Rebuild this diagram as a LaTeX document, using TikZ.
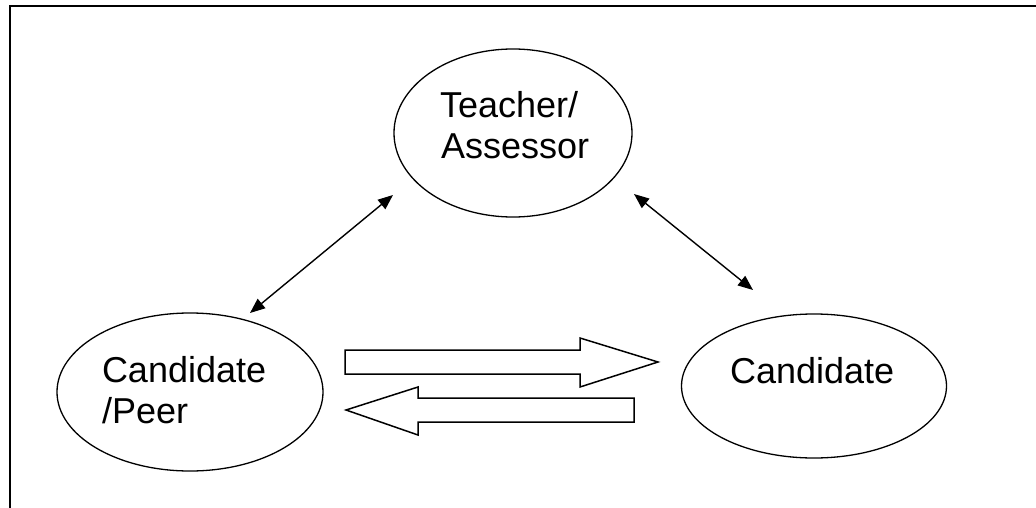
\documentclass[tikz,border=0pt]{standalone}
\usepackage{fontspec}
\setmainfont{Liberation Sans}
\usetikzlibrary{shapes.geometric,arrows.meta}
\tikzset{
  oval/.style={ellipse, draw=black, line width=1.3pt, inner sep=0pt, outer sep=0pt},
  label/.style={anchor=base west, inner sep=0pt, outer sep=0pt, font=\fontsize{36}{41}\selectfont},
  dbl/.style={line width=1.4pt, {Triangle[length=15pt,width=12pt]}-{Triangle[length=15pt,width=12pt]}},
  block/.style={draw=black, line width=1.5pt, fill=white, line join=miter},
  frame/.style={line width=2pt}
}
\begin{document}
\begin{tikzpicture}[x=1pt,y=-1pt]
\useasboundingbox (0,0) rectangle (1036,508);
% frame
\coordinate (ftl) at (10,6);
\coordinate (ftr) at (1036,6);
\coordinate (fbl) at (10,508);
\draw[frame] (fbl) -- (ftl) -- (ftr);
% ellipses
\node[oval, minimum width=238pt, minimum height=168pt] (teacher) at (513,133) {};
\node[oval, minimum width=266pt, minimum height=158pt] (peer) at (190,392) {};
\node[oval, minimum width=265pt, minimum height=144pt] (cand) at (814,386) {};
% texts
\node[label] (t1) at (440,118) {Teacher/};
\node[label] (t2) at (441,159) {Assessor};
\node[label] (p1) at (102,382) {Candidate};
\node[label] (p2) at (102,423) {/Peer};
\node[label] (c1) at (730,383) {Candidate};
% double arrows
\coordinate (a1) at (250,313);
\coordinate (a2) at (393,195);
\coordinate (b1) at (634,194);
\coordinate (b2) at (753,290);
\draw[dbl] (a1) -- (a2);
\draw[dbl] (b1) -- (b2);
% block arrows
\draw[block] (345,350) -- (580,350) -- (580,338) -- (658,362) -- (580,387) -- (580,374) -- (345,374) -- cycle;
\draw[block] (634,398) -- (418,398) -- (418,387) -- (346,410) -- (418,435) -- (418,422) -- (634,422) -- cycle;
\end{tikzpicture}
\end{document}
